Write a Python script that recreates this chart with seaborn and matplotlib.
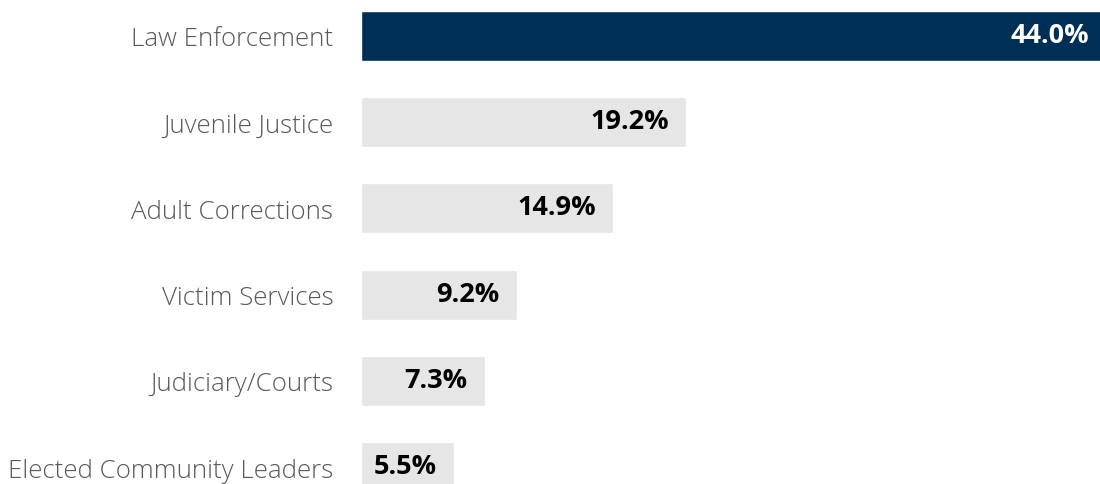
import matplotlib
matplotlib.use("Agg")
import matplotlib.pyplot as plt
import seaborn as sns
import pandas as pd

categories = ["Law Enforcement", "Juvenile Justice", "Adult Corrections",
              "Victim Services", "Judiciary/Courts", "Elected Community Leaders"]
values = [44.0, 19.2, 14.9, 9.2, 7.3, 5.5]
value_labels = ["44.0%", "19.2%", "14.9%", "9.2%", "7.3%", "5.5%"]
bar_colors = ["#002F56", "#E6E6E6", "#E6E6E6", "#E6E6E6", "#E6E6E6", "#E6E6E6"]
label_colors = ["white", "black", "black", "black", "black", "black"]

sns.set_theme(style="white")
plt.rcParams['font.family'] = ['Open Sans', 'DejaVu Sans']

df = pd.DataFrame({"category": categories, "value": values})

fig = plt.figure(figsize=(11, 4.85), dpi=100)
ax = fig.add_axes([361 / 1100, 0, 739 / 1100, 1])

sns.barplot(data=df, x="value", y="category", hue="category",
            palette=bar_colors, order=categories, hue_order=categories,
            width=0.58, legend=False, ax=ax, saturation=1)

ax.set_xlim(0, 43.65)
ax.set_ylim(5.197, -0.429)
ax.set_xlabel("")
ax.set_ylabel("")
ax.set_xticks([])
for s in ax.spines.values():
    s.set_visible(False)
ax.tick_params(axis="y", length=0, pad=20, labelsize=18.6, labelcolor="#595959")
for t in ax.get_yticklabels():
    t.set_fontweight("light")

for i, (v, lab, c) in enumerate(zip(values, value_labels, label_colors)):
    ax.annotate(lab, xy=(v, i), xytext=(-17, 1), textcoords="offset pixels",
                ha="right", va="center", fontsize=19.5, fontweight="bold",
                color=c, annotation_clip=False)

fig.savefig("out.png", dpi=100)
